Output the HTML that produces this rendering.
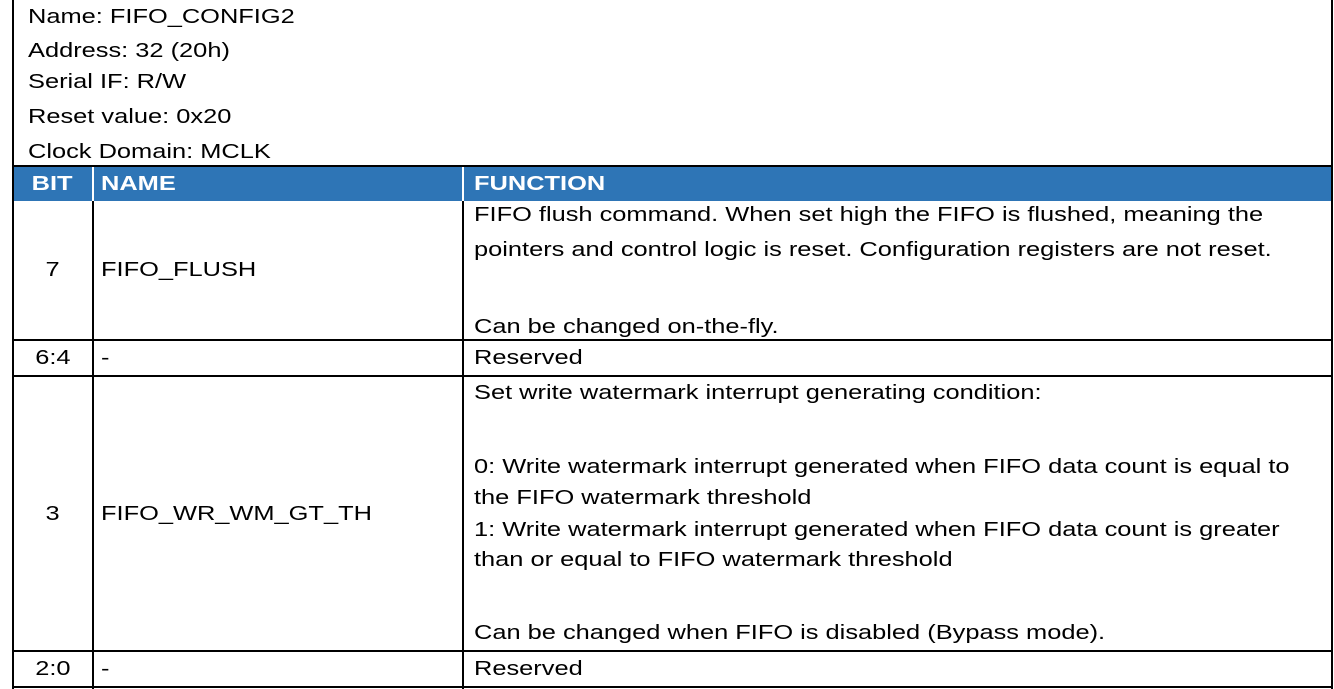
<!DOCTYPE html>
<html><head><meta charset="utf-8"><style>
html,body{margin:0;padding:0;background:#fff;}
#c{position:relative;width:1334px;height:689px;overflow:hidden;font-family:"Liberation Sans",sans-serif;font-size:20px;color:#000;}
.t{position:absolute;height:24px;line-height:24px;white-space:nowrap;transform:scaleX(1.27);transform-origin:0 50%;}
.cc{position:absolute;height:24px;line-height:24px;white-space:nowrap;left:13px;width:79px;text-align:center;}
.cc span{display:inline-block;transform:scaleX(1.27);}
.l{position:absolute;background:#000;}
.b{font-weight:bold;color:#fff;}
</style></head><body><div id="c">
<div style="position:absolute;left:13px;top:167px;width:1320px;height:34px;background:#2E75B6"></div>
<div class="l" style="left:12px;top:0;width:2px;height:689px"></div>
<div class="l" style="left:1331px;top:0;width:2px;height:689px"></div>
<div class="l" style="left:92px;top:201px;width:2px;height:488px"></div>
<div class="l" style="left:462px;top:201px;width:2px;height:488px"></div>
<div style="position:absolute;left:92px;top:167px;width:2px;height:34px;background:#fff"></div>
<div style="position:absolute;left:462px;top:167px;width:2px;height:34px;background:#fff"></div>
<div class="l" style="left:12px;top:165px;width:1321px;height:2px"></div>
<div class="l" style="left:12px;top:339px;width:1321px;height:2px"></div>
<div class="l" style="left:12px;top:375px;width:1321px;height:2px"></div>
<div class="l" style="left:12px;top:650px;width:1321px;height:2px"></div>
<div class="l" style="left:12px;top:686px;width:1321px;height:2px"></div>
<div class="t" style="left:28px;top:5px">Name: FIFO_CONFIG2</div>
<div class="t" style="left:28px;top:39px">Address: 32 (20h)</div>
<div class="t" style="left:28px;top:70px">Serial IF: R/W</div>
<div class="t" style="left:28px;top:105px">Reset value: 0x20</div>
<div class="t" style="left:28px;top:140px">Clock Domain: MCLK</div>
<div class="cc b" style="top:172px"><span>BIT</span></div>
<div class="t b" style="left:101px;top:172px">NAME</div>
<div class="t b" style="left:474px;top:172px">FUNCTION</div>
<div class="cc" style="top:258px"><span>7</span></div>
<div class="t" style="left:101px;top:258px">FIFO_FLUSH</div>
<div class="t" style="left:474px;top:203px">FIFO flush command. When set high the FIFO is flushed, meaning the</div>
<div class="t" style="left:474px;top:238px">pointers and control logic is reset. Configuration registers are not reset.</div>
<div class="t" style="left:474px;top:315px">Can be changed on-the-fly.</div>
<div class="cc" style="top:346px"><span>6:4</span></div>
<div class="t" style="left:101px;top:346px">-</div>
<div class="t" style="left:474px;top:346px">Reserved</div>
<div class="cc" style="top:502px"><span>3</span></div>
<div class="t" style="left:101px;top:502px">FIFO_WR_WM_GT_TH</div>
<div class="t" style="left:474px;top:381px">Set write watermark interrupt generating condition:</div>
<div class="t" style="left:474px;top:455px">0: Write watermark interrupt generated when FIFO data count is equal to</div>
<div class="t" style="left:474px;top:486px">the FIFO watermark threshold</div>
<div class="t" style="left:474px;top:518px">1: Write watermark interrupt generated when FIFO data count is greater</div>
<div class="t" style="left:474px;top:548px">than or equal to FIFO watermark threshold</div>
<div class="t" style="left:474px;top:621px">Can be changed when FIFO is disabled (Bypass mode).</div>
<div class="cc" style="top:657px"><span>2:0</span></div>
<div class="t" style="left:101px;top:657px">-</div>
<div class="t" style="left:474px;top:657px">Reserved</div>
</div></body></html>
